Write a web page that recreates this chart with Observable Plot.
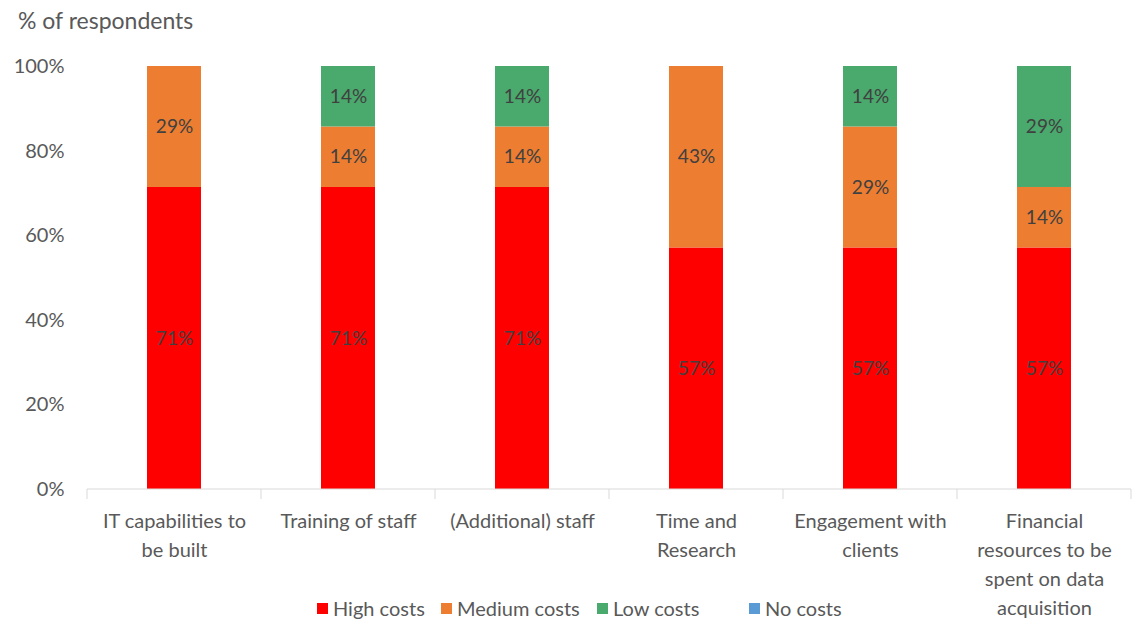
<!DOCTYPE html>
<html>
<head>
<meta charset="utf-8">
<script src="https://cdn.jsdelivr.net/npm/d3@7"></script>
<script src="https://cdn.jsdelivr.net/npm/@observablehq/plot@0.6"></script>
<style>
  html, body { margin: 0; padding: 0; background: #fff; }
  body { width: 1133px; height: 623px; overflow: hidden; font-family: Lato, "Open Sans", sans-serif; color: #595959; position: relative; }
  #title { height: 40px; line-height: 40px; font-size: 23px; padding-left: 18px; }
  #chart { position: absolute; left: 0; top: 40px; }
  #legend { position: absolute; left: 317px; top: 596px; display: flex; font-size: 20px; line-height: 24px; }
  #legend .item { display: flex; align-items: center; gap: 5px; }
  #legend .sw { width: 11px; height: 11px; display: inline-block; }
</style>
</head>
<body>
<div id="title">% of respondents</div>
<div id="chart"></div>
<div id="legend"></div>
<script>
const categories = [
  "IT capabilities to be built",
  "Training of staff",
  "(Additional) staff",
  "Time and Research",
  "Engagement with clients",
  "Financial resources to be spent on data acquisition"
];
const categoryLabels = [
  "IT capabilities to\nbe built",
  "Training of staff",
  "(Additional) staff",
  "Time and\nResearch",
  "Engagement with\nclients",
  "Financial\nresources to be\nspent on data\nacquisition"
];
const seriesNames = ["High costs", "Medium costs", "Low costs", "No costs"];
const seriesColors = ["#ff0000", "#ed7d31", "#4aa96c", "#5b9bd5"];
const highCosts   = [71.4, 71.4, 71.4, 57.1, 57.1, 57.1];
const mediumCosts = [28.6, 14.3, 14.3, 42.9, 28.6, 14.3];
const lowCosts    = [0,    14.3, 14.3, 0,    14.3, 28.6];
const noCosts     = [0,    0,    0,    0,    0,    0];
const yTicks = [0, 20, 40, 60, 80, 100];
const legendItemWidths = [124, 156, 152, 100];

const seriesValues = [highCosts, mediumCosts, lowCosts, noCosts];
const data = [];
seriesNames.forEach((s, si) => {
  categories.forEach((c, ci) => {
    data.push({category: c, series: s, value: seriesValues[si][ci]});
  });
});
const labelMap = new Map(categories.map((c, i) => [c, categoryLabels[i]]));

const separators = (index, scales, values, dims) => {
  const sx = scales.x;
  const step = typeof sx.step === "function" ? sx.step() : sx.step;
  const bw = typeof sx.bandwidth === "function" ? sx.bandwidth() : sx.bandwidth;
  const y0 = scales.y(0);
  const g = d3.create("svg:g");
  const xs = categories.map(c => sx(c) + bw / 2 - step / 2);
  xs.push(sx(categories[categories.length - 1]) + bw / 2 + step / 2);
  g.append("line").attr("x1", xs[0]).attr("x2", Math.min(xs[xs.length - 1], dims.width)).attr("y1", y0).attr("y2", y0).attr("stroke", "#d9d9d9").attr("stroke-width", 1);
  for (const x of xs) {
    g.append("line").attr("x1", x).attr("x2", x).attr("y1", y0).attr("y2", y0 + 10).attr("stroke", "#d9d9d9").attr("stroke-width", 1);
  }
  return g.node();
};

const chart = Plot.plot({
  width: 1133,
  height: 583,
  marginTop: 26,
  marginBottom: 134,
  marginLeft: 85,
  marginRight: 0,
  style: {fontFamily: "Lato, 'Open Sans', sans-serif", fontSize: "20px", color: "#595959", background: "transparent"},
  x: {domain: categories, paddingInner: 0.69, paddingOuter: 0.345, label: null},
  y: {domain: [0, 100], label: null},
  color: {domain: seriesNames, range: seriesColors},
  marks: [
    Plot.barY(data, Plot.stackY({x: "category", y: "value", fill: "series", order: seriesNames})),
    Plot.text(data.filter(d => d.value > 0), Plot.stackY({x: "category", y: "value", z: "series", order: seriesNames, text: d => Math.round(d.value) + "%", fill: "#404040", fontSize: 19})),
    Plot.axisY({ticks: yTicks, tickFormat: d => d + "%", tickSize: 0, tickPadding: 21, fontSize: 20, fill: "#595959"}),
    Plot.axisX({tickFormat: c => labelMap.get(c), tickSize: 0, tickPadding: 18, lineHeight: 1.45, fontSize: 20, fill: "#595959"}),
    separators
  ]
});
document.getElementById("chart").appendChild(chart);

const legend = document.getElementById("legend");
seriesNames.forEach((s, i) => {
  const item = document.createElement("div");
  item.className = "item";
  item.style.width = legendItemWidths[i] + "px";
  const sw = document.createElement("span");
  sw.className = "sw";
  sw.style.background = seriesColors[i];
  const t = document.createElement("span");
  t.textContent = s;
  item.appendChild(sw);
  item.appendChild(t);
  legend.appendChild(item);
});
</script>
</body>
</html>
